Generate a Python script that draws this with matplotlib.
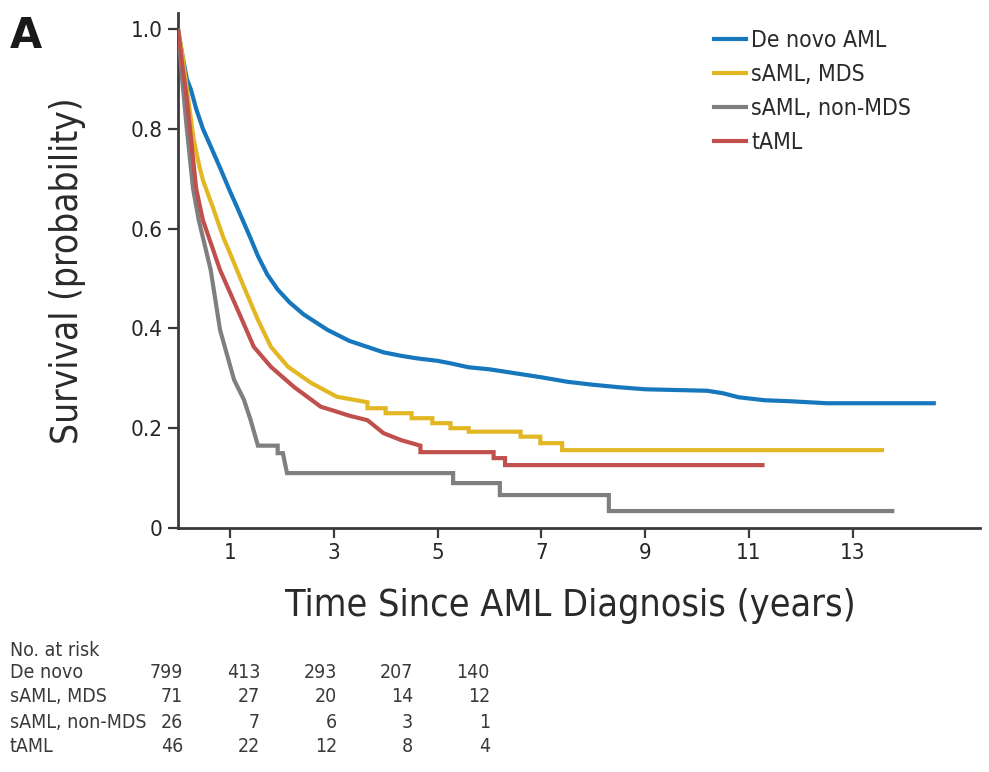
import matplotlib
matplotlib.use("Agg")
import matplotlib.pyplot as plt
from matplotlib.lines import Line2D

plt.rcParams['font.family'] = ["DejaVu Sans"]
plt.rcParams['font.stretch'] = "condensed"

# ---- data ----
groups = ["De novo AML", "sAML, MDS", "sAML, non-MDS", "tAML"]
colors = ["#1677bd", "#e3b723", "#7f7f7f", "#c0504d"]

denovo_t = [0, 0.08, 0.17, 0.25, 0.35, 0.48, 0.65, 0.83, 1.0, 1.15, 1.4, 1.54, 1.72, 1.92,
            2.15, 2.42, 2.88, 3.3, 3.96, 4.3, 4.6, 5.0, 5.25, 5.6, 6.0, 6.5, 7.0, 7.5, 8.0,
            8.5, 9.0, 9.4, 10.2, 10.5, 10.8, 11.3, 11.8, 12.5, 14.6]
denovo_s = [1.0, 0.95, 0.9, 0.878, 0.84, 0.8, 0.76, 0.717, 0.675, 0.64, 0.58, 0.545, 0.508,
            0.478, 0.452, 0.428, 0.397, 0.375, 0.352, 0.345, 0.34, 0.335, 0.33, 0.322, 0.318,
            0.31, 0.302, 0.293, 0.287, 0.282, 0.278, 0.277, 0.275, 0.27, 0.262, 0.256, 0.254,
            0.25, 0.25]

mds_t = [0, 0.08, 0.17, 0.3, 0.4, 0.48, 0.67, 0.87, 1.0, 1.27, 1.54, 1.79, 2.12, 2.56, 3.06,
         3.65, 3.65, 4.0, 4.0, 4.5, 4.5, 4.9, 4.9, 5.25, 5.25, 5.6, 5.6, 5.9, 6.6, 6.6, 6.98,
         6.98, 7.4, 7.4, 13.6]
mds_s = [1.0, 0.95, 0.88, 0.78, 0.73, 0.697, 0.643, 0.583, 0.551, 0.483, 0.417, 0.363, 0.323,
         0.291, 0.263, 0.252, 0.24, 0.24, 0.23, 0.23, 0.22, 0.22, 0.21, 0.21, 0.2, 0.2, 0.193,
         0.193, 0.193, 0.183, 0.183, 0.17, 0.17, 0.156, 0.156]

nonmds_t = [0, 0.08, 0.17, 0.29, 0.4, 0.63, 0.81, 1.08, 1.27, 1.4, 1.54, 1.92, 1.92, 2.02,
            2.1, 5.3, 5.3, 6.2, 6.2, 8.3, 8.3, 13.8]
nonmds_s = [1.0, 0.9, 0.8, 0.68, 0.617, 0.517, 0.397, 0.297, 0.257, 0.216, 0.165, 0.165, 0.15,
            0.15, 0.11, 0.11, 0.09, 0.09, 0.066, 0.066, 0.034, 0.034]

taml_t = [0, 0.08, 0.17, 0.25, 0.35, 0.48, 0.81, 1.15, 1.46, 1.79, 2.23, 2.75, 3.0, 3.3, 3.65,
          3.96, 4.3, 4.67, 4.67, 6.08, 6.08, 6.3, 6.3, 11.3]
taml_s = [1.0, 0.93, 0.86, 0.78, 0.68, 0.617, 0.517, 0.437, 0.363, 0.323, 0.283, 0.243, 0.235,
          0.225, 0.216, 0.19, 0.176, 0.165, 0.152, 0.152, 0.14, 0.14, 0.126, 0.126]

x_ticks = [1, 3, 5, 7, 9, 11, 13]
y_ticks = [0, 0.2, 0.4, 0.6, 0.8, 1.0]
y_ticklabels = ["0", "0.2", "0.4", "0.6", "0.8", "1.0"]

risk_rows = ["De novo", "sAML, MDS", "sAML, non-MDS", "tAML"]
risk_denovo = [799, 413, 293, 207, 140]
risk_mds = [71, 27, 20, 14, 12]
risk_nonmds = [26, 7, 6, 3, 1]
risk_taml = [46, 22, 12, 8, 4]

# ---- figure ----
W, H = 989, 772
fig = plt.figure(figsize=(W / 100, H / 100), dpi=100)
ax = fig.add_axes([178 / W, 1 - 528 / H, (980 - 178) / W, (528 - 13) / H])

series = [(denovo_t, denovo_s), (mds_t, mds_s), (nonmds_t, nonmds_s), (taml_t, taml_s)]
zorders = [3, 4, 5, 6]
for i, (t, s) in enumerate(series):
    ax.plot(t, s, color=colors[i], lw=3.0, solid_joinstyle='miter', solid_capstyle='butt',
            zorder=zorders[i])

ax.set_xlim(0, 15.45)
ax.set_ylim(0, 1.032)
for sp in ["top", "right"]:
    ax.spines[sp].set_visible(False)
for sp in ["left", "bottom"]:
    ax.spines[sp].set_color("#3a3a3a")
    ax.spines[sp].set_linewidth(2.0)
ax.set_xticks(x_ticks)
ax.set_xticklabels([str(v) for v in x_ticks])
ax.set_yticks(y_ticks)
ax.set_yticklabels(y_ticklabels)
ax.tick_params(axis="both", direction="out", length=7, width=1.6, color="#3a3a3a",
               labelsize=16, labelcolor="#262626", pad=4)

ax.set_xlabel("Time Since AML Diagnosis (years)", fontsize=27, color="#2a2a2a",
              labelpad=18, x=(570 - 178) / (980 - 178))
ax.set_ylabel("Survival (probability)", fontsize=26.5, color="#2a2a2a", labelpad=32)

handles = [Line2D([0], [0], color=c, lw=3.0) for c in colors]
leg = fig.legend(handles, groups, loc="upper left", bbox_to_anchor=(693 / W, 1 - 8 / H),
                 frameon=False, fontsize=16.5, handlelength=1.4, handletextpad=0.25,
                 labelspacing=0.48, labelcolor="#2a2a2a")

fig.text(10 / W, 1 - 36 / H, "A", fontsize=30, fontweight="bold", color="#1a1a1a",
         va="center", ha="left", stretch="normal")

# ---- number-at-risk table ----
tc = "#3a3a3a"
fig.text(10 / W, 1 - 650 / H, "No. at risk", fontsize=14, color=tc, va="center", ha="left")
row_y = [673, 697, 722, 746]
col_x = [183, 260, 337, 413, 490]
risk_vals = [risk_denovo, risk_mds, risk_nonmds, risk_taml]
for name, yy, vals in zip(risk_rows, row_y, risk_vals):
    fig.text(10 / W, 1 - yy / H, name, fontsize=14, color=tc, va="center", ha="left")
    for xx, v in zip(col_x, vals):
        fig.text(xx / W, 1 - yy / H, str(v), fontsize=14, color=tc, va="center", ha="right")

fig.savefig("out.png", dpi=100)
